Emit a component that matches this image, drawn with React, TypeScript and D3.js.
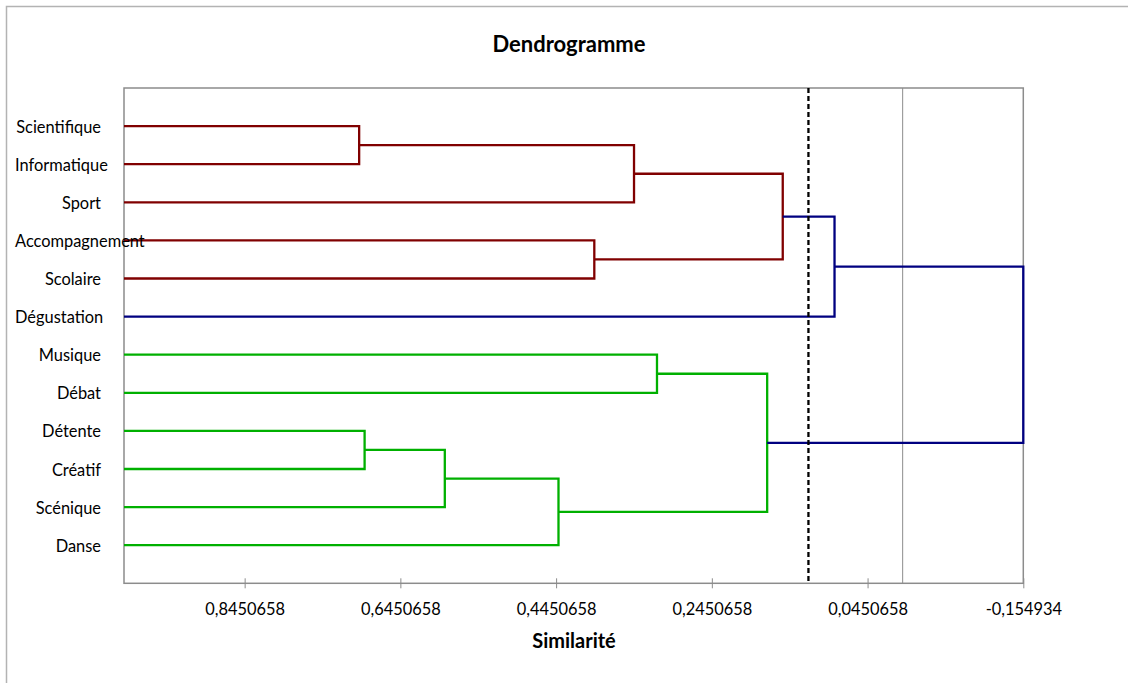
import React, { useEffect, useRef } from 'react';
import * as d3 from 'd3';

// leaves, top to bottom
const leaves = [
  'Scientifique', 'Informatique', 'Sport', 'Accompagnement', 'Scolaire', 'Dégustation',
  'Musique', 'Débat', 'Détente', 'Créatif', 'Scénique', 'Danse',
];

// merges: [left child, right child, similarity]; leaves are 0..11, merges 12..
const merges: [number, number, number][] = [
  [0, 1, 0.698],
  [12, 2, 0.345],
  [3, 4, 0.396],
  [13, 14, 0.154],
  [15, 5, 0.0875],
  [6, 7, 0.3155],
  [8, 9, 0.691],
  [18, 10, 0.588],
  [19, 11, 0.442],
  [17, 20, 0.174],
  [16, 21, -0.154934],
];

const tickValues = [0.8450658, 0.6450658, 0.4450658, 0.2450658, 0.0450658, -0.154934];
const tickLabels = ['0,8450658', '0,6450658', '0,4450658', '0,2450658', '0,0450658', '-0,154934'];

const cutLevel = 0.121;
const clusterColors = ['#800000', '#00b000'];
const aboveColor = '#000080';

const font = 'Lato, "Open Sans", sans-serif';

const App = () => {
  const svgRef = useRef<SVGSVGElement>(null);

  useEffect(() => {
    if (!svgRef.current) return;
    const width = 1128;
    const height = 683;
    const left = 124, right = 1023.3, top = 88, bottom = 583.3;

    const svg = d3.select(svgRef.current);
    svg.selectAll('*').remove();

    const x = d3.scaleLinear().domain([1, -0.154934]).range([left, right]);
    const y = d3.scaleLinear().domain([0, leaves.length + 1]).range([top, bottom]);

    // outer frame
    svg.append('rect')
      .attr('x', 6.5).attr('y', 6.5)
      .attr('width', width + 50).attr('height', height + 50)
      .attr('fill', 'white')
      .attr('stroke', '#b3b3b3')
      .attr('stroke-width', 1.5);

    svg.append('text')
      .attr('x', 569).attr('y', 43)
      .attr('text-anchor', 'middle')
      .attr('dominant-baseline', 'central')
      .style('font-family', font)
      .style('font-weight', 'bold')
      .style('font-size', '22px')
      .text('Dendrogramme');

    // plot frame
    svg.append('rect')
      .attr('x', left).attr('y', top)
      .attr('width', right - left).attr('height', bottom - top)
      .attr('fill', 'none')
      .attr('stroke', '#8c8c8c')
      .attr('stroke-width', 1.5);

    // vertical axis at 0
    svg.append('line')
      .attr('x1', x(0)).attr('x2', x(0))
      .attr('y1', top).attr('y2', bottom)
      .attr('stroke', '#8c8c8c')
      .attr('stroke-width', 1);

    // x axis ticks
    const axis = d3.axisBottom(x)
      .tickValues(tickValues)
      .tickFormat((_, i) => tickLabels[i])
      .tickSizeInner(5)
      .tickSizeOuter(0)
      .tickPadding(15);
    const gAxis = svg.append('g').attr('transform', `translate(0,${bottom})`).call(axis);
    gAxis.select('.domain').remove();
    gAxis.selectAll('.tick line')
      .attr('y1', -5)
      .attr('stroke', '#8c8c8c')
      .attr('stroke-width', 1);
    gAxis.selectAll('.tick text')
      .attr('fill', '#000')
      .style('font-family', font)
      .style('font-size', '16.4px');

    svg.append('text')
      .attr('x', 574).attr('y', 640)
      .attr('text-anchor', 'middle')
      .attr('dominant-baseline', 'central')
      .style('font-family', font)
      .style('font-weight', 'bold')
      .style('font-size', '20px')
      .text('Similarité');

    // node positions
    const n = leaves.length;
    const pos: { yPos: number; sim: number }[] = leaves.map((_, i) => ({ yPos: y(i + 1), sim: 1 }));
    merges.forEach(([a, b, s]) => {
      pos.push({ yPos: (pos[a].yPos + pos[b].yPos) / 2, sim: s });
    });

    // colour each merge: below the cut -> cluster colour, above -> navy
    const nodeColor: string[] = [];
    const clusterRoots: number[] = [];
    merges.forEach(([a, b, s], k) => {
      if (s < cutLevel) {
        nodeColor[k + n] = aboveColor;
        [a, b].forEach((c) => {
          if (c >= n && merges[c - n][2] >= cutLevel) clusterRoots.push(c);
        });
      }
    });
    const paint = (id: number, color: string) => {
      if (id < n) return;
      nodeColor[id] = color;
      const [a, b] = merges[id - n];
      paint(a, color);
      paint(b, color);
    };
    clusterRoots
      .sort((a, b) => pos[a].yPos - pos[b].yPos)
      .forEach((c, i) => paint(c, clusterColors[i % clusterColors.length]));

    const links = merges.map(([a, b], k) => {
      const id = k + n;
      const px = x(pos[id].sim);
      const p = d3.path();
      p.moveTo(x(pos[a].sim), pos[a].yPos);
      p.lineTo(px, pos[a].yPos);
      p.lineTo(px, pos[b].yPos);
      p.lineTo(x(pos[b].sim), pos[b].yPos);
      return { d: p.toString(), color: nodeColor[id] };
    });

    svg.append('g')
      .selectAll('path')
      .data(links)
      .enter().append('path')
      .attr('d', (d) => d.d)
      .attr('fill', 'none')
      .attr('stroke', (d) => d.color)
      .attr('stroke-width', 2.3);

    // truncation line
    svg.append('line')
      .attr('x1', x(cutLevel)).attr('x2', x(cutLevel))
      .attr('y1', top).attr('y2', bottom)
      .attr('stroke', '#000')
      .attr('stroke-width', 2.3)
      .attr('stroke-dasharray', '5,3');

    // leaf labels: right aligned, pushed right when too long
    const labels = svg.append('g')
      .selectAll('text')
      .data(leaves)
      .enter().append('text')
      .attr('y', (_, i) => y(i + 1))
      .attr('dominant-baseline', 'central')
      .style('font-family', font)
      .style('font-size', '16.4px')
      .text((d) => d);
    labels.each(function () {
      const el = this as SVGTextElement;
      const w = el.getComputedTextLength();
      d3.select(el).attr('x', Math.max(15, 101 - w));
    });
  }, []);

  return (
    <svg
      ref={svgRef}
      width={1128}
      height={683}
      style={{ position: 'absolute', left: 0, top: 0, display: 'block' }}
    />
  );
};

export default App;
